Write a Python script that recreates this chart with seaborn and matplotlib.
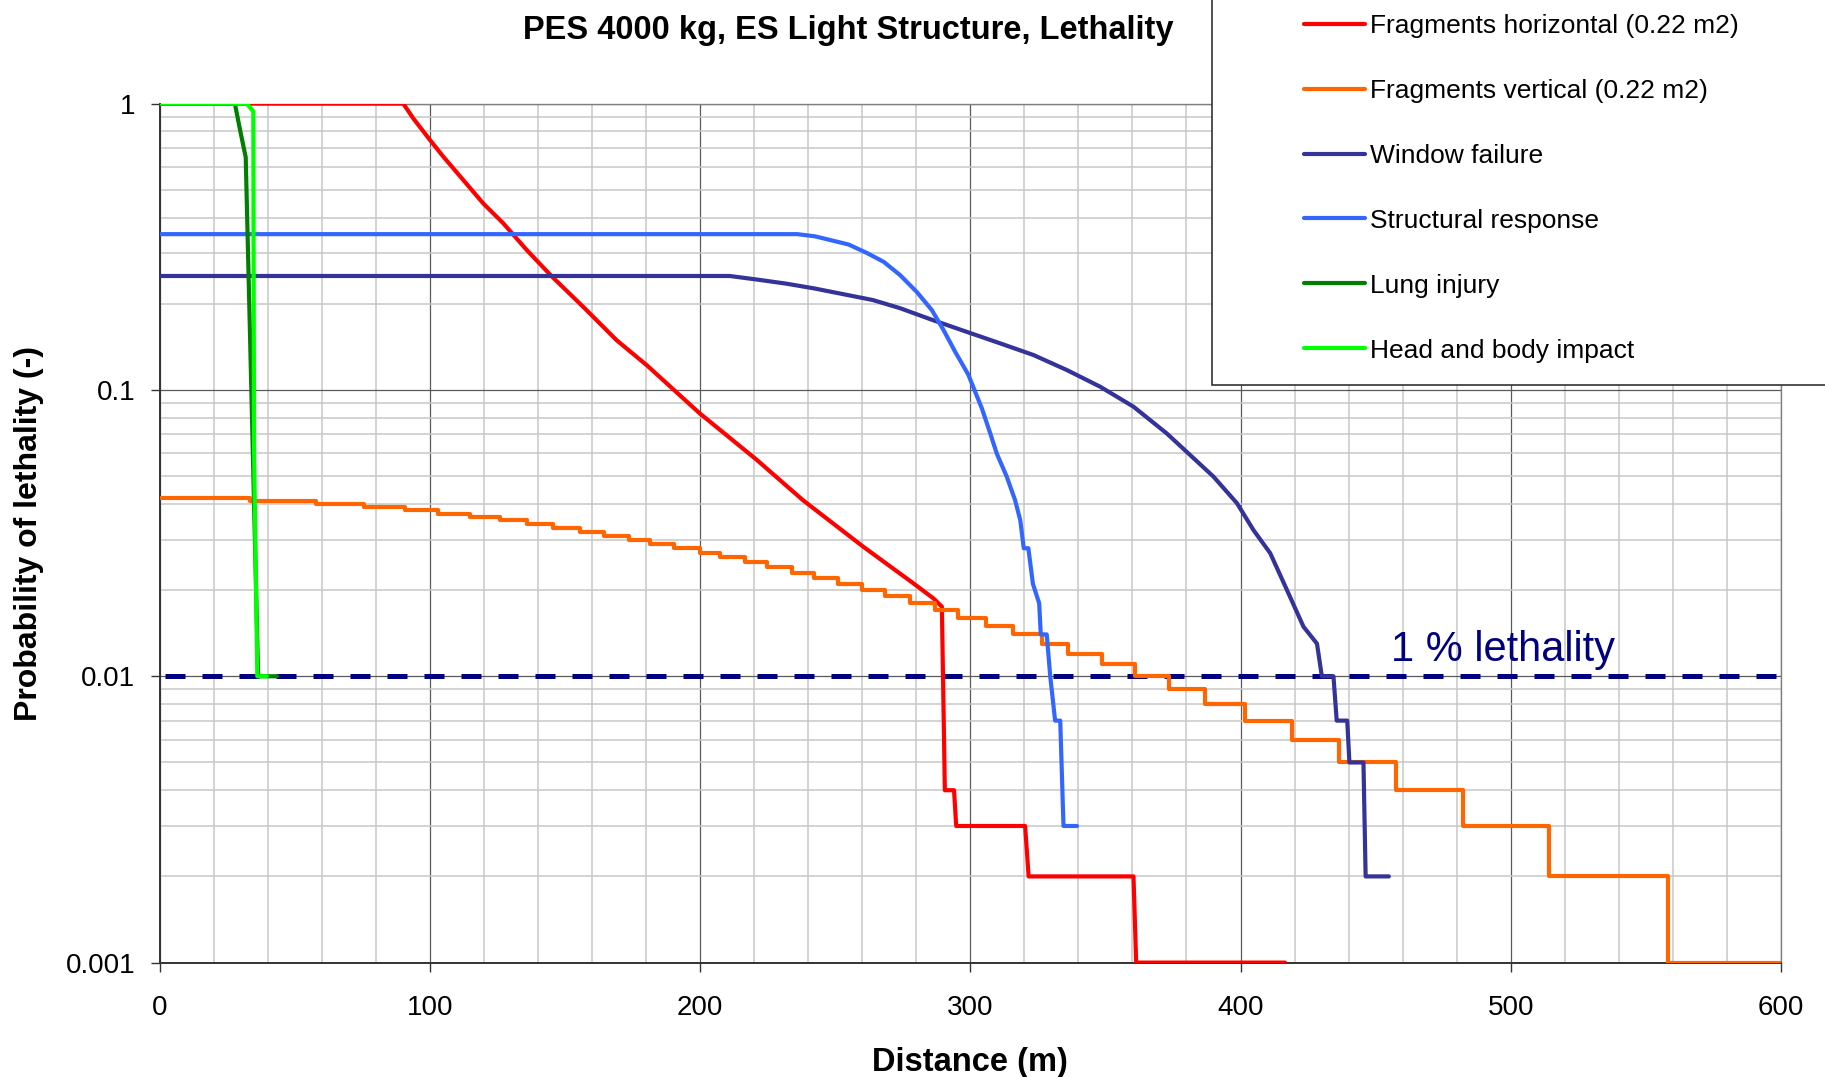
import matplotlib
matplotlib.use("Agg")
import matplotlib.pyplot as plt
import matplotlib.ticker as mticker
from matplotlib.patches import Rectangle
import seaborn as sns

# Distance (m) / probability of lethality
frag_h_x = [0, 90.2, 93.9, 100.1, 105, 112.4, 119.8, 127.2, 135.9, 145.2, 156.8, 169.2, 180.3,
            199.8, 221, 238.1, 260.5, 279, 286.4, 289.5, 290.6, 294, 294.8, 320.3, 321.6,
            360.4, 361.4, 416.5]
frag_h_y = [1, 1, 0.888, 0.746, 0.653, 0.541, 0.448, 0.382, 0.308, 0.249, 0.195, 0.149, 0.122,
            0.083, 0.057, 0.0412, 0.0283, 0.0211, 0.0187, 0.0175, 0.004, 0.004, 0.003, 0.003, 0.002,
            0.002, 0.001, 0.001]

# staircase: distance where each level starts
frag_v_x = [0, 33.5, 58, 75.5, 91, 103, 115, 126, 136, 145.7, 155.6, 164.5, 173.8, 181.5, 190.4,
            200, 207.4, 216.7, 224.7, 234, 242, 251.2, 259.9, 268.5, 277.8, 287, 295.5, 306, 316,
            326.5, 336.3, 348.7, 361, 373.7, 387, 401.5, 419, 436.6, 457.4, 482.2, 514.2, 558.3, 600]
frag_v_y = [0.042, 0.041, 0.040, 0.039, 0.038, 0.037, 0.036, 0.035, 0.034, 0.033, 0.032, 0.031,
            0.030, 0.029, 0.028, 0.027, 0.026, 0.025, 0.024, 0.023, 0.022, 0.021, 0.020, 0.019,
            0.018, 0.017, 0.016, 0.015, 0.014, 0.013, 0.012, 0.011, 0.010, 0.009, 0.008, 0.007,
            0.006, 0.005, 0.004, 0.003, 0.002, 0.001, 0.001]

window_x = [0, 211, 221, 232, 242.5, 253, 264, 274, 286.4, 300, 311, 323.4, 335.7, 348.1, 360.4,
            372.7, 381.4, 390, 398.7, 404.8, 411, 417.2, 423.3, 428.3, 430.1, 434.4, 435.6, 439.5,
            440.3, 445.5, 446.3, 454.9]
window_y = [0.25, 0.25, 0.243, 0.235, 0.226, 0.216, 0.206, 0.193, 0.175, 0.158, 0.1455, 0.1324,
            0.1174, 0.1026, 0.0874, 0.0705, 0.0592, 0.0498, 0.0402, 0.0324, 0.0269, 0.020, 0.0149,
            0.013, 0.010, 0.010, 0.007, 0.007, 0.005, 0.005, 0.002, 0.002]

struct_x = [0, 236, 242.5, 255, 262, 268, 274, 280.2, 285.8, 290.1, 294.4, 299.3, 301.8, 304.3,
            307.4, 309.8, 313.5, 316.6, 318.5, 319.8, 321.5, 323.2, 325.5, 326.1, 328.3, 329.6,
            331.4, 333.3, 334.5, 339.5]
struct_y = [0.35, 0.35, 0.344, 0.322, 0.30, 0.28, 0.252, 0.220, 0.190, 0.162, 0.136, 0.113, 0.0986,
            0.0862, 0.0705, 0.060, 0.0498, 0.0412, 0.0351, 0.028, 0.028, 0.021, 0.018, 0.014, 0.014,
            0.010, 0.007, 0.007, 0.003, 0.003]

lung_x = [0, 27.9, 29.8, 31.9, 33.9, 36.5, 43.5]
lung_y = [1, 1, 0.81, 0.65, 0.108, 0.01, 0.01]

head_x = [0, 32.3, 34.7, 35.0, 36.2, 39.7]
head_y = [1, 1, 0.94, 0.06, 0.01, 0.01]

series = [
    ("Fragments horizontal (0.22 m2)", frag_h_x, frag_h_y, "#FF0000", "default"),
    ("Fragments vertical (0.22 m2)", frag_v_x, frag_v_y, "#FF6600", "steps-post"),
    ("Window failure", window_x, window_y, "#333399", "default"),
    ("Structural response", struct_x, struct_y, "#3366FF", "default"),
    ("Lung injury", lung_x, lung_y, "#008000", "default"),
    ("Head and body impact", head_x, head_y, "#00FF00", "default"),
]

x_ticks = [0, 100, 200, 300, 400, 500, 600]
y_ticks = [0.001, 0.01, 0.1, 1]
y_tick_labels = ["0.001", "0.01", "0.1", "1"]
threshold = 0.01

sns.set_style("white")
plt.rcParams["font.family"] = ["Liberation Sans", "DejaVu Sans"]
plt.rcParams.update({"text.color": "black", "axes.labelcolor": "black",
                     "xtick.color": "black", "ytick.color": "black"})

W, H = 1825, 1077
fig = plt.figure(figsize=(W / 100, H / 100), dpi=100)
ax = fig.add_axes([159.5 / W, 1 - 962.6 / H, (1781 - 159.5) / W, (962.6 - 103.6) / H])
ax.set_yscale("log")

for i, (name, xs, ys, color, ds) in enumerate(series):
    sns.lineplot(x=xs, y=ys, ax=ax, color=color, lw=3, label=name, sort=False,
                 estimator=None, drawstyle=ds, zorder=3 + i)

ax.axhline(threshold, color="#000080", lw=3.6, linestyle=(6.4, (4, 3.4)), zorder=2.5)
ax.text(455.7, 0.0113, "1 % lethality", color="#000080", fontsize=30, va="baseline", zorder=10)

ax.set_xlim(0, 600)
ax.set_ylim(0.001, 1)
ax.set_xticks(x_ticks)
ax.set_xticklabels([str(v) for v in x_ticks])
ax.xaxis.set_minor_locator(mticker.MultipleLocator(20))
ax.set_yticks(y_ticks)
ax.set_yticklabels(y_tick_labels)
ax.yaxis.set_minor_locator(mticker.LogLocator(base=10, subs=range(2, 10)))
ax.yaxis.set_minor_formatter(mticker.NullFormatter())

ax.set_axisbelow(True)
ax.grid(which="major", color="#5a5a5a", lw=0.9)
ax.grid(which="minor", color="#c8c8c8", lw=1.1)
ax.tick_params(which="major", direction="out", length=6.5, width=1, color="#333333",
               labelsize=20, labelcolor="black", bottom=True, left=True)
ax.tick_params(axis="x", which="major", pad=17)
ax.tick_params(axis="y", which="major", pad=11)
ax.tick_params(which="minor", length=0)
for side in ["left", "bottom"]:
    ax.spines[side].set_color("#333333")
    ax.spines[side].set_linewidth(1.4)
for side in ["top", "right"]:
    ax.spines[side].set_color("#808080")
    ax.spines[side].set_linewidth(1.0)

ax.set_xlabel("Distance (m)", fontsize=23.5, fontweight="bold", color="black")
ax.set_ylabel("Probability of lethality (-)", fontsize=23, fontweight="bold", color="black")
ax.xaxis.set_label_coords(0.5, -0.098)
ax.yaxis.set_label_coords(-0.071, 0.5)

fig.text(848 / W, 1 - 39 / H, "PES 4000 kg, ES Light Structure, Lethality", fontsize=23.5,
         fontweight="bold", ha="center", va="baseline", color="black")

# legend box runs off the top and right edges, as in the original
handles, labels = ax.get_legend_handles_labels()
if ax.get_legend() is not None:
    ax.get_legend().remove()
fig.patches.append(Rectangle((1212 / W, 1 - 385 / H), 0.5, 0.5, transform=fig.transFigure,
                             facecolor="white", edgecolor="#333333", lw=1.2, zorder=3))
fig.legend(handles, labels, loc="upper left", bbox_to_anchor=(1304 / W, 1 - 14 / H),
           frameon=False, fontsize=19, handlelength=2.3, handletextpad=0.2,
           labelspacing=1.55, borderpad=0, borderaxespad=0, labelcolor="black")

fig.savefig("out.png", dpi=100)
